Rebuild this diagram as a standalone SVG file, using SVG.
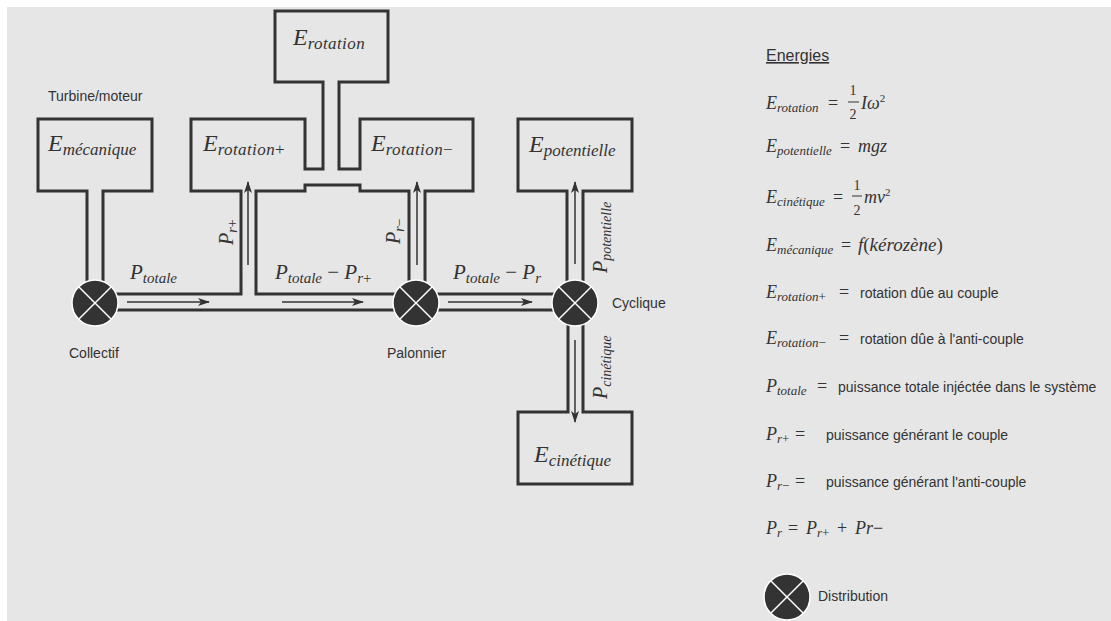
<svg xmlns="http://www.w3.org/2000/svg" width="1111" height="621" viewBox="0 0 1111 621">
<style>
.pipe{fill:none;stroke:#333;stroke-width:3;stroke-linejoin:miter}
.arr{stroke:#333;stroke-width:1.5;fill:none;marker-end:url(#ah)}
.dc{fill:#333;stroke:#fff;stroke-width:1.5}
.dx{stroke:#fff;stroke-width:1.5}
.m{font-family:"Liberation Serif","Times New Roman",serif;font-style:italic;fill:#333}
.up{font-style:normal}
.t{font-family:"Liberation Sans",Arial,sans-serif;font-size:14px;fill:#333}
.bE{font-size:24px}
.bs{font-size:17px}
.pE{font-size:21px}
.ps{font-size:15px}
.lE{font-size:18px}
.ls{font-size:13px}
</style>
<defs>
<marker id="ah" markerUnits="userSpaceOnUse" viewBox="0 0 12 8" refX="11" refY="4" markerWidth="12" markerHeight="8" orient="auto">
<path d="M0,0 L12,4 L0,8 L3,4 z" fill="#333"/>
</marker>
<g id="dist">
<circle class="dc" r="23"/>
<line class="dx" x1="-16.3" y1="-16.3" x2="16.3" y2="16.3"/>
<line class="dx" x1="-16.3" y1="16.3" x2="16.3" y2="-16.3"/>
</g>
</defs>
<rect x="7" y="7" width="1104" height="614" fill="#e6e6e6"/>

<g id="connectors">
<g class="pipe">
<path d="M87,284 L87,191 L38,191 L38,119 L152,119 L152,191 L103,191 L103,284"/>
<path d="M110,294 L241,294 L241,191 L191,191 L191,119 L305,119 L305,169 L323,169 L323,82 L275,82 L275,11 L388,11 L388,82 L339,82 L339,169 L360,169 L360,119 L473,119 L473,191 L425,191 L425,284"/>
<path d="M409,284 L409,191 L360,191 L360,185 L305,185 L305,191 L256,191 L256,294 L400,294"/>
<path d="M110,310 L400,310"/>
<path d="M430,294 L560,294"/>
<path d="M430,310 L560,310"/>
<path d="M567,284 L567,191 L518,191 L518,119 L632,119 L632,191 L583,191 L583,284"/>
<path d="M568,322 L568,412 L518,412 L518,484 L632,484 L632,412 L583,412 L583,322"/>
</g>
<g id="flow-arrows">
<line class="arr" x1="127" y1="302" x2="209" y2="302"/>
<line class="arr" x1="282" y1="302" x2="363" y2="302"/>
<line class="arr" x1="448" y1="302" x2="532" y2="302"/>
<line class="arr" x1="248" y1="265" x2="248" y2="182"/>
<line class="arr" x1="417" y1="265" x2="417" y2="182"/>
<line class="arr" x1="575" y1="264" x2="575" y2="182"/>
<line class="arr" x1="575" y1="340" x2="575" y2="422"/>
</g>
<g id="flow-labels">
<text class="m pE" x="130" y="279">P<tspan class="ps" dy="4">totale</tspan></text>
<text class="m pE" x="275" y="279">P<tspan class="ps" dy="4">totale</tspan><tspan class="up" dy="-4"> − </tspan>P<tspan class="ps" dy="4">r<tspan class="up">+</tspan></tspan></text>
<text class="m pE" x="453" y="279">P<tspan class="ps" dy="4">totale</tspan><tspan class="up" dy="-4"> − </tspan>P<tspan class="ps" dy="4">r</tspan></text>
<text class="m" font-size="20" transform="translate(233,245) rotate(-90)">P<tspan font-size="14" dy="4">r<tspan class="up">+</tspan></tspan></text>
<text class="m" font-size="20" transform="translate(400,244) rotate(-90)">P<tspan font-size="14" dy="4">r<tspan class="up">−</tspan></tspan></text>
<text class="m" font-size="20" transform="translate(607,273) rotate(-90)">P<tspan font-size="14" dy="4">potentielle</tspan></text>
<text class="m" font-size="20" transform="translate(607,399) rotate(-90)">P<tspan font-size="14" dy="4">cinétique</tspan></text>
</g>
</g>

<g id="node-mecanique">
<text class="t" x="48" y="101">Turbine/moteur</text>
<text class="m bE" x="48" y="151">E<tspan class="bs" dy="4">mécanique</tspan></text>
</g>
<g id="node-rotation-plus">
<text class="m bE" x="203" y="151">E<tspan class="bs" dy="4" letter-spacing="0.4">rotation<tspan class="up">+</tspan></tspan></text>
</g>
<g id="node-rotation">
<text class="m bE" x="293" y="45">E<tspan class="bs" dy="4" letter-spacing="0.4">rotation</tspan></text>
</g>
<g id="node-rotation-minus">
<text class="m bE" x="371" y="151">E<tspan class="bs" dy="4" letter-spacing="0.4">rotation<tspan class="up">−</tspan></tspan></text>
</g>
<g id="node-potentielle">
<text class="m bE" x="529" y="152">E<tspan class="bs" dy="4">potentielle</tspan></text>
</g>
<g id="node-cinetique">
<text class="m bE" x="534" y="462">E<tspan class="bs" dy="4">cinétique</tspan></text>
</g>
<g id="node-collectif">
<use href="#dist" x="95" y="303"/>
<text class="t" x="69" y="358">Collectif</text>
</g>
<g id="node-palonnier">
<use href="#dist" x="416" y="303"/>
<text class="t" x="387" y="358">Palonnier</text>
</g>
<g id="node-cyclique">
<use href="#dist" x="575" y="303"/>
<text class="t" x="612" y="308">Cyclique</text>
</g>

<g id="legend">
<text class="t" x="766" y="61" text-decoration="underline" style="font-size:16px">Energies</text>

<text class="m lE" x="766" y="109">E<tspan class="ls" dy="3">rotation</tspan></text>
<text class="m lE up" x="828" y="109">=</text>
<text class="m up" font-size="14" x="853" y="95" text-anchor="middle">1</text>
<line x1="848" y1="102" x2="859" y2="102" stroke="#333" stroke-width="1"/>
<text class="m up" font-size="14" x="853" y="119" text-anchor="middle">2</text>
<text class="m lE" x="861" y="109">Iω<tspan class="up" font-size="11" dy="-7">2</tspan></text>

<text class="m lE" x="766" y="152">E<tspan class="ls" dy="3">potentielle</tspan></text>
<text class="m lE up" x="840" y="152">=</text>
<text class="m lE" x="858" y="152">mgz</text>

<text class="m lE" x="766" y="203">E<tspan class="ls" dy="3">cinétique</tspan></text>
<text class="m lE up" x="833" y="203">=</text>
<text class="m up" font-size="14" x="857" y="190" text-anchor="middle">1</text>
<line x1="852" y1="196" x2="862" y2="196" stroke="#333" stroke-width="1"/>
<text class="m up" font-size="14" x="857" y="215" text-anchor="middle">2</text>
<text class="m lE" x="864" y="203">mv<tspan class="up" font-size="11" dy="-7">2</tspan></text>

<text class="m lE" x="766" y="251">E<tspan class="ls" dy="3">mécanique</tspan></text>
<text class="m lE up" x="841" y="251">=</text>
<text class="m" font-size="19" x="858" y="251">f<tspan class="up">(</tspan>kérozène<tspan class="up">)</tspan></text>

<text class="m lE" x="766" y="298">E<tspan class="ls" dy="3">rotation<tspan class="up">+</tspan></tspan></text>
<text class="m lE up" x="839" y="298">=</text>
<text class="t" x="860" y="298">rotation dûe au couple</text>

<text class="m lE" x="766" y="344">E<tspan class="ls" dy="3">rotation<tspan class="up">−</tspan></tspan></text>
<text class="m lE up" x="839" y="344">=</text>
<text class="t" x="860" y="344">rotation dûe à l'anti-couple</text>

<text class="m lE" x="766" y="392">P<tspan class="ls" dy="3">totale</tspan></text>
<text class="m lE up" x="817" y="392">=</text>
<text class="t" x="838" y="392">puissance totale injéctée dans le système</text>

<text class="m lE" x="766" y="440">P<tspan class="ls" dy="3">r<tspan class="up">+</tspan></tspan></text>
<text class="m lE up" x="795" y="440">=</text>
<text class="t" x="826" y="440">puissance générant le couple</text>

<text class="m lE" x="766" y="487">P<tspan class="ls" dy="3">r<tspan class="up">−</tspan></tspan></text>
<text class="m lE up" x="795" y="487">=</text>
<text class="t" x="826" y="487">puissance générant l'anti-couple</text>

<text class="m lE" x="766" y="534">P<tspan class="ls" dy="3">r</tspan><tspan class="up" dy="-3" x="788">=</tspan><tspan x="806">P</tspan><tspan class="ls" dy="3">r<tspan class="up">+</tspan></tspan><tspan class="up" dy="-3" x="837">+</tspan><tspan x="855">Pr</tspan><tspan class="up">−</tspan></text>

<use href="#dist" x="787" y="597"/>
<text class="t" x="818" y="601">Distribution</text>
</g>
</svg>
